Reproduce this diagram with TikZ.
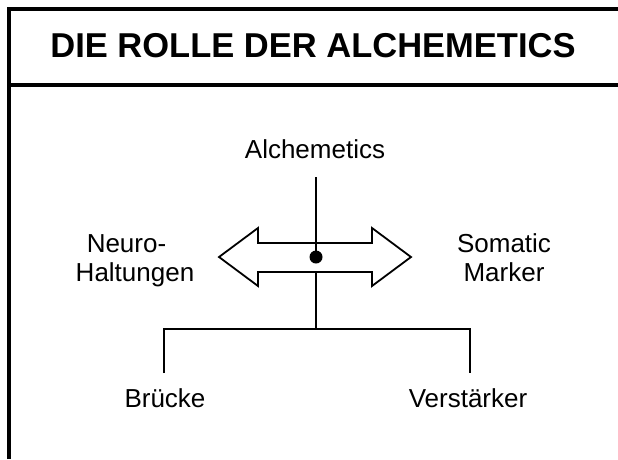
\documentclass[tikz,border=0pt]{standalone}
\usepackage{fontspec}
\setmainfont{Liberation Sans}
\begin{document}
\begin{tikzpicture}[x=1pt,y=-1pt,
  frame/.style={line width=4pt},
  link/.style={line width=1.8pt},
  label/.style={font=\fontsize{26}{29}\selectfont, align=center, inner sep=0pt},
  titletext/.style={font=\fontsize{34.5}{40}\selectfont\bfseries, inner sep=0pt}]
  \useasboundingbox (0,0) rectangle (618,459);
  % frame and title band
  \draw[frame] (9,459) -- (9,9) -- (618,9);
  \draw[frame] (9,85) -- (618,85);
  \node[titletext] (title) at (313,46) {DIE ROLLE DER ALCHEMETICS};

  % labels
  \node[label] (alch) at (315,149) {Alchemetics};
  \node[label] (neuro) at (135,261) {Neuro-\hspace*{17pt}\\Haltungen};
  \node[label] (soma) at (504,258) {Somatic\\Marker};
  \node[label] (bruecke) at (165,398) {Brücke};
  \node[label] (verst) at (468,398) {Verstärker};

  % double-headed block arrow
  \draw[link, fill=white, line join=miter]
    (219,257) -- (258,228) -- (258,243) -- (372,243) -- (372,228) -- (411,257)
    -- (372,286) -- (372,272) -- (258,272) -- (258,286) -- cycle;
  \coordinate (shaftbot) at (316,272);

  % centre point and vertical connectors
  \node[circle, fill=black, inner sep=0pt, minimum size=13pt] (dot) at (316,257) {};
  \coordinate (alchfoot) at (316,177);
  \draw[link] (alchfoot) -- (dot.center);
  \coordinate (fork) at (316,329);
  \coordinate (forkL) at (164,329);
  \coordinate (forkR) at (470,329);
  \coordinate (legL) at (164,373);
  \coordinate (legR) at (470,373);
  \draw[link] (shaftbot) -- (fork);
  \draw[link] (legL) -- (forkL) -- (forkR) -- (legR);
\end{tikzpicture}
\end{document}
